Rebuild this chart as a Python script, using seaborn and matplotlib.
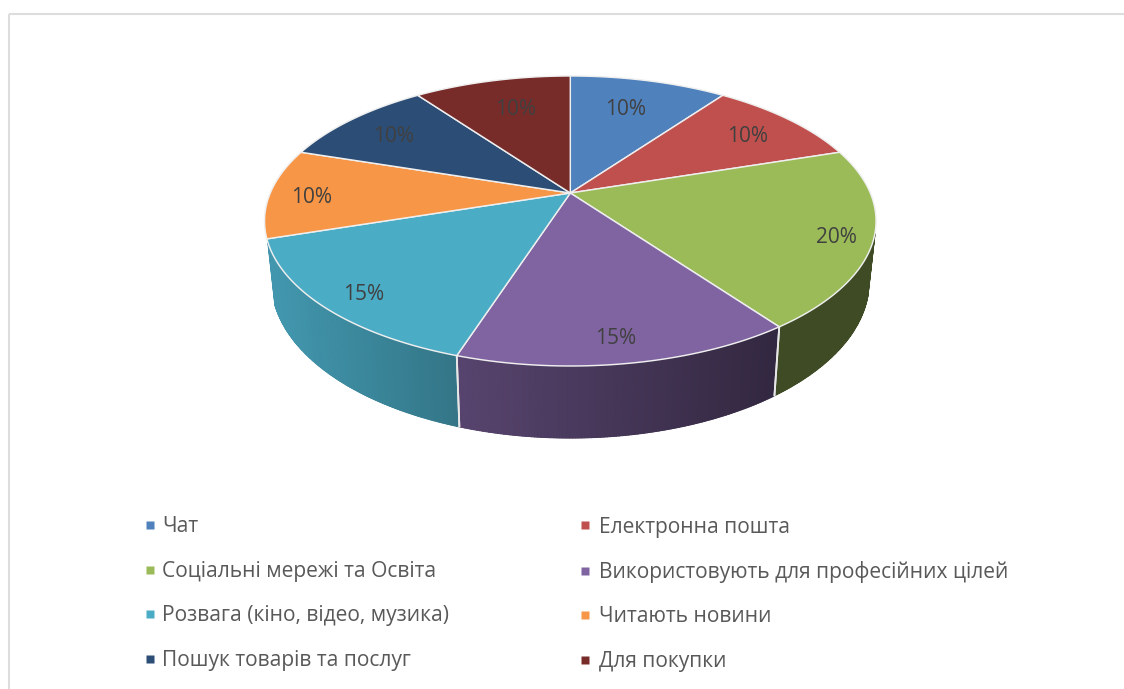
import numpy as np
import matplotlib
matplotlib.use("Agg")
import matplotlib.pyplot as plt
from matplotlib.lines import Line2D
from matplotlib.patches import Rectangle
import seaborn as sns

# ---- data ----
categories = ["Чат", "Електронна пошта", "Соціальні мережі та Освіта",
              "Використовують для професійних цілей", "Розвага (кіно, відео, музика)",
              "Читають новини", "Пошук товарів та послуг", "Для покупки"]
shares = [10, 10, 20, 15, 15, 10, 10, 10]
labels = ["10%", "10%", "20%", "15%", "15%", "10%", "10%", "10%"]
colors = ["#4F81BD", "#C0504D", "#9BBB59", "#8064A2", "#4BACC6", "#F79646", "#2C4D75", "#772C2A"]

# ---- layout (pixels of the 1124x689 canvas) ----
W, H = 1124, 689
CX, CY = 570.3, 193.0
A, B, K = 139.6, 300.0, 0.193      # projective view of the disc
DEPTH, BOTTOM_SCALE = 58.0, 0.977
WALL_START, WALL_END = 106.0, 250.5
label_xy = [(626, 109.5), (748, 136.5), (836, 237.5), (616, 338.5),
            (364, 294.5), (312, 197.5), (394, 136.5), (516, 109.5)]
FONT = "Open Sans"

sns.set_theme(style="white")
plt.rcParams["font.family"] = [FONT, "DejaVu Sans"]
palette = sns.color_palette(colors)


def top(theta):
    t = np.radians(theta)
    u, v = np.sin(t), np.cos(t)
    w = 1 + K * v
    return CX + B * u / w, CY - A * v / w


def bottom(theta):
    t = np.radians(theta)
    x, y = top(theta)
    w = 1 + K * np.cos(t)
    return CX + (x - CX) * BOTTOM_SCALE, y + DEPTH / w


def shade(x):
    return np.interp(x, [270, 460, 773, 880], [0.88, 0.68, 0.40, 0.40])


fig = plt.figure(figsize=(W / 100, H / 100), dpi=100, facecolor="white")
ax = fig.add_axes([0, 0, 1, 1])
ax.set_xlim(0, W)
ax.set_ylim(H, 0)
ax.axis("off")

# outer chart frame: only top and left remain inside the crop
ax.add_patch(Rectangle((9, 14), W, H, fill=False, ec="#DDDDDD", lw=1.5))

edges = np.concatenate([[0], np.cumsum(shares)]) * 360.0 / np.sum(shares)

# side walls: a solid base per slice, then a smooth left-to-right shading on top
for i, col in enumerate(palette):
    a0, a1 = max(edges[i], WALL_START), min(edges[i + 1], WALL_END)
    if a0 >= a1:
        continue
    steps = np.linspace(a0, a1, int((a1 - a0) * 2) + 2)
    xt, yt = top(steps)
    xb, yb = bottom(steps)
    base = tuple(np.array(col) * shade(xt.mean()))
    ax.fill(np.r_[xt, xb[::-1]], np.r_[yt, yb[::-1]], color=base, lw=0.6, zorder=2)
    for j in range(len(steps) - 1):
        c = tuple(np.array(col) * shade((xt[j] + xt[j + 1]) / 2))
        ax.fill([xt[j], xt[j + 1], xb[j + 1], xb[j]], [yt[j], yt[j + 1], yb[j + 1], yb[j]],
                color=c, lw=1.0, zorder=2.1)
    for e in (edges[i], edges[i + 1]):
        if WALL_START < e < WALL_END:
            x0, y0 = top(e)
            x1, y1 = bottom(e)
            ax.plot([x0, x1], [y0, y1], color="#E8E8E8", lw=1.3, zorder=3)

# top surface
for i, col in enumerate(palette):
    ang = np.linspace(edges[i], edges[i + 1], 120)
    xs, ys = top(ang)
    ax.fill(np.r_[CX, xs], np.r_[CY, ys], facecolor=col, edgecolor="#EFEFEF",
            lw=1.05, joinstyle="round", zorder=4)

# data labels
for txt, (x, y) in zip(labels, label_xy):
    ax.text(x, y, txt, ha="center", va="center", fontsize=15, color="#404040", zorder=5)


def col_legend(idx, anchor, pad):
    handles = [Line2D([], [], ls="", marker="s", ms=5.6, mec="none", mfc=palette[i]) for i in idx]
    leg = ax.legend(handles, [categories[i] for i in idx], loc="upper left",
                    bbox_to_anchor=anchor, bbox_transform=ax.transData,
                    frameon=False, fontsize=15.1, labelcolor="#595959", borderpad=0,
                    borderaxespad=0, handlelength=0.55, handletextpad=pad, labelspacing=1.12)
    ax.add_artist(leg)
    ax.legend_ = None


col_legend([0, 2, 4, 6], (144, 516.5), 0.30)
col_legend([1, 3, 5, 7], (579, 516.5), 0.42)

fig.savefig("out.png", dpi=100)
